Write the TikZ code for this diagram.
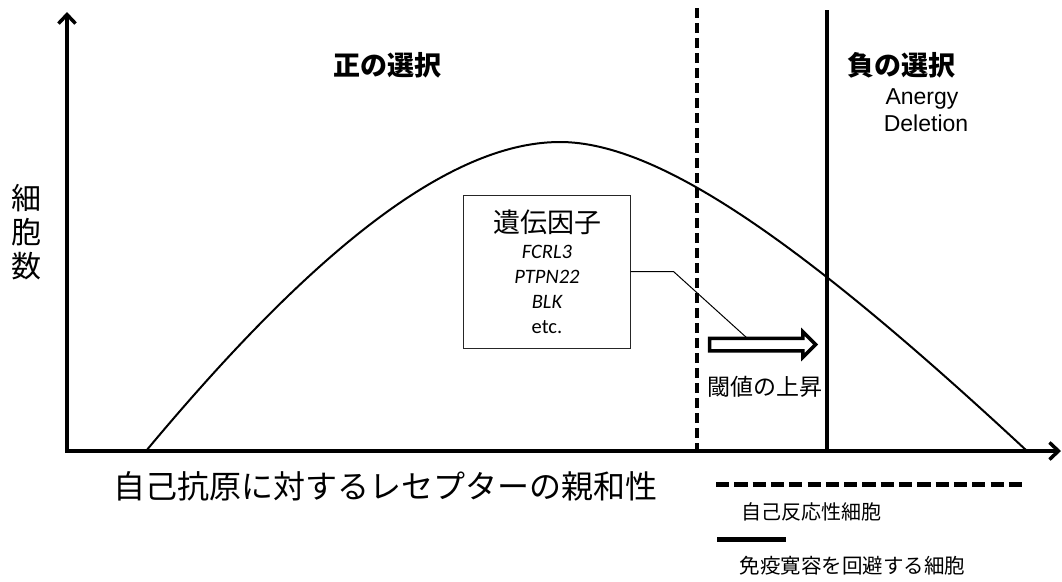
\documentclass[tikz,border=0pt]{standalone}
\usepackage{fontspec}
\setmainfont{Liberation Sans}
\newfontfamily\cjk{Noto Sans CJK JP}
\newfontfamily\calfont{Carlito}
\usetikzlibrary{arrows.meta,shapes.arrows}
\tikzset{
  axis/.style={line width=3.5pt, line join=miter},
  curve/.style={line width=2pt, line cap=round},
  thick line/.style={line width=3.5pt},
  dashline/.style={line width=4pt, dash pattern=on 10pt off 5pt},
  txt/.style={inner sep=0pt, outer sep=0pt},
  heading/.style={txt, font=\cjk\bfseries\fontsize{27}{30}\selectfont},
  gene/.style={txt, anchor=base, font=\calfont\itshape\fontsize{20.5}{24}\selectfont},
}
\begin{document}
\begin{tikzpicture}[x=1pt,y=-1pt]
\useasboundingbox (0,0) rectangle (1062,581);
% axes
\coordinate (ytip) at (67,12);
\coordinate (orig) at (67,451);
\coordinate (xtip) at (1061,451);
\draw[axis, {Straight Barb[length=9pt,width=17pt]}-{Straight Barb[length=9pt,width=17pt]}] (ytip) -- (orig) -- (xtip);
% curve
\coordinate (c0) at (146,451);
\coordinate (cpk) at (560,142);
\coordinate (c1) at (1027,451);
\draw[curve] (c0) .. controls (296,271) and (440,142) .. (cpk)
  .. controls (660,142) and (807,246.4) .. (c1);
% thresholds
\coordinate (dtop) at (697,8);
\coordinate (dbot) at (697,451);
\coordinate (stop) at (827,10);
\coordinate (sbot) at (827,451);
\draw[dashline] (dtop) -- (dbot);
\draw[thick line] (stop) -- (sbot);
% headings
\node[heading] (pos) at (387,65) {正の選択};
\node[heading] (neg) at (901,65) {負の選択};
\node[txt, anchor=base, font=\fontsize{23}{26}\selectfont] (anergy) at (922,104) {Anergy};
\node[txt, anchor=base, font=\fontsize{23}{26}\selectfont] (deletion) at (926,131) {Deletion};
% y label
\node[txt, align=center, font=\cjk\fontsize{30}{34}\selectfont] (ylab) at (27,232) {細\\胞\\数};
% gene box
\node[draw=black!85, line width=1pt, minimum width=167pt, minimum height=153pt, inner sep=0pt] (gene) at (546.5,271.5) {};
\node[txt, font=\cjk\fontsize{27}{30}\selectfont] (genet) at (547,222) {遺伝因子};
\node[gene] (g1) at (547,258) {FCRL3};
\node[gene] (g2) at (547,283) {PTPN22};
\node[gene] (g3) at (547,308) {BLK};
\node[txt, anchor=base, font=\calfont\fontsize{20.5}{24}\selectfont] (g4) at (547,333) {etc.};
% hollow arrow
\node[single arrow, draw, fill=white, line width=3.5pt, inner xsep=0pt, inner ysep=4.5pt, minimum height=106pt, single arrow head extend=6.5pt, outer sep=0pt] (thr) at (759.5,344.5) {};
\coordinate (cend) at (747,338);
\draw[line width=1pt] (gene.east) -- ++(43,0) -- (cend);
\node[txt, font=\cjk\fontsize{23}{26}\selectfont] (thrl) at (765,387) {閾値の上昇};
% x label
\node[txt, font=\cjk\fontsize{32}{36}\selectfont] (xlab) at (385,486) {自己抗原に対するレセプターの親和性};
% legend
\coordinate (l1a) at (716,484);
\coordinate (l1b) at (1022,484);
\draw[line width=5pt, dash pattern=on 13.2pt off 5.1pt] (l1a) -- (l1b);
\node[txt, font=\cjk\fontsize{20}{24}\selectfont] (leg1) at (811,512) {自己反応性細胞};
\coordinate (l2a) at (717,539);
\coordinate (l2b) at (786,539);
\draw[line width=5pt] (l2a) -- (l2b);
\node[txt, font=\cjk\fontsize{20.5}{24}\selectfont] (leg2) at (852.5,566) {免疫寛容を回避する細胞};
\end{tikzpicture}
\end{document}
